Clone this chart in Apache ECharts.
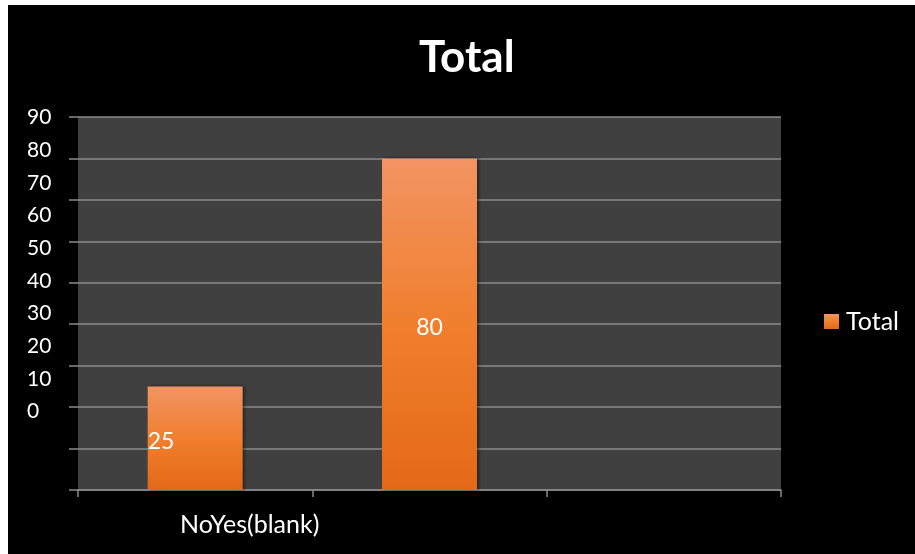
<!DOCTYPE html>
<html>
<head>
<meta charset="utf-8">
<script src="https://cdn.jsdelivr.net/npm/echarts@6/dist/echarts.min.js"></script>
<style>
html,body{margin:0;padding:0;background:#fff;width:915px;height:554px;overflow:hidden;}
#c{position:absolute;left:8px;top:5px;width:907px;height:549px;}
</style>
</head>
<body>
<div id="c"></div>
<script>
var titleText = 'Total';
var seriesName = 'Total';
var categories = ['No', 'Yes', '(blank)'];
var values = [25, 80, null];
var yMin = 0, yMax = 90, yStep = 10;

var FONT = 'Lato';
var chart = echarts.init(document.getElementById('c'), null, {renderer: 'canvas'});

var barData = values.map(function (v, i) {
  var item = {value: v == null ? '-' : v};
  if (i === 0) item.label = {position: 'insideLeft', distance: 0};
  return item;
});

chart.setOption({
  backgroundColor: '#000',
  animation: false,
  title: {
    text: titleText,
    left: 406, top: 26,
    textStyle: {color: '#fff', fontFamily: FONT, fontWeight: 'bold', fontSize: 44}
  },
  legend: {
    data: [seriesName],
    left: 816, top: 304,
    padding: 0,
    icon: 'rect', itemWidth: 15, itemHeight: 15, itemGap: 7,
    textStyle: {color: '#fff', fontFamily: FONT, fontSize: 25, padding: [0, 0, 0, 2]}
  },
  grid: [
    {left: 70, top: 112, width: 703, height: 373, show: true, backgroundColor: '#404040', borderWidth: 0},
    {left: 70, top: 112.5, width: 1, height: 294, show: false}
  ],
  xAxis: [
    {
      type: 'category', gridIndex: 0, data: categories,
      axisLine: {show: true, lineStyle: {color: '#8a8a8a', width: 1.5}},
      axisTick: {show: true, length: 7, lineStyle: {color: '#8a8a8a', width: 1.5}},
      axisLabel: {show: false}
    },
    {type: 'category', gridIndex: 1, data: [''], show: false}
  ],
  yAxis: [
    {
      type: 'value', gridIndex: 0, min: yMin, max: yMax, interval: yStep,
      axisLine: {show: false},
      axisTick: {show: true, length: 9, lineStyle: {color: '#8a8a8a', width: 1.5}},
      axisLabel: {show: false},
      splitLine: {show: true, lineStyle: {color: '#8a8a8a', width: 1.5}}
    },
    {
      type: 'value', gridIndex: 1, min: yMin, max: yMax, interval: yStep,
      axisLine: {show: false}, axisTick: {show: false}, splitLine: {show: false},
      axisLabel: {color: '#fff', fontFamily: FONT, fontSize: 21, margin: 51, align: 'left'}
    }
  ],
  graphic: [{
    type: 'text',
    left: 172, top: 507,
    style: {text: categories.join(''), fill: '#fff', font: '25px ' + FONT}
  }],
  series: [{
    name: seriesName,
    type: 'bar',
    xAxisIndex: 0, yAxisIndex: 0,
    data: barData,
    barWidth: 95,
    itemStyle: {
      color: new echarts.graphic.LinearGradient(0, 0, 0, 1, [
        {offset: 0, color: '#F29462'},
        {offset: 0.5, color: '#F07F2E'},
        {offset: 1, color: '#E36917'}
      ]),
      shadowColor: 'rgba(0,0,0,0.45)', shadowBlur: 3, shadowOffsetX: 2
    },
    label: {show: true, position: 'inside', color: '#fff', fontFamily: FONT, fontSize: 23, offset: [0, 3]}
  }]
});
</script>
</body>
</html>
